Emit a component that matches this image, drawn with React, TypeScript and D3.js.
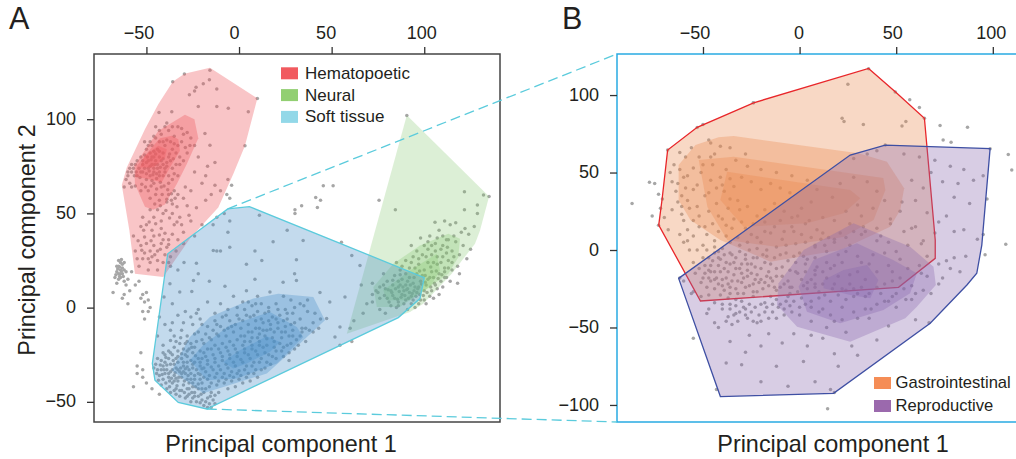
import React, { useRef, useEffect } from "react";
import * as d3 from "d3";

type Pt = number[];

// panel A hulls, outer to inner
const hemaHulls: Pt[][] = [
  [[-15.7,127.3],[-29.5,124.1],[-35.8,119.9],[-43.6,107.9],[-50.8,94.7],[-60.6,74.4],[-63.3,65.1],[-59.2,40.9],[-56.2,18],[-40.9,16.2],[-26.5,36.7],[-11.2,53.2],[-3.1,70.9],[3.2,85.9],[9.9,111.1]],
  [[-29.2,102.3],[-24.1,100],[-22,89.9],[-28.2,76.2],[-33.6,65.6],[-40,54.7],[-46.3,51.9],[-50.8,53.6],[-56.2,65.6],[-56.5,75.3],[-49.8,85],[-43.6,93.8]],
  [[-36.3,91.2],[-32.8,89.4],[-31.9,83.2],[-37.3,74.4],[-41.7,66.5],[-49,68.3],[-56.2,69.5],[-55.2,75.3],[-47.1,85],[-42.7,89.9]],
  [[-43.6,85.9],[-39,84.1],[-40,79.7],[-46.3,74.4],[-53.5,74.4],[-50.8,80.6]],
];
const neuralHulls: Pt[][] = [
  [[90.6,102.1],[135,59],[130.1,40.9],[127.4,33.9],[114.8,18],[99.5,2.1],[92.3,-2.3],[58.2,-13.8]],
  [[113,39.2],[119.3,36.5],[118.4,26.8],[113,18],[101.3,10],[86.9,0.3],[74.4,0.3],[72.5,10.9],[83.3,23.3],[97.7,33]],
  [[106.7,28.6],[108.5,19.7],[103.1,10.9],[92.3,3.9],[79.8,3.9],[77.9,9.2],[92.3,19.7]],
];
const softHulls: Pt[][] = [
  [[-6.1,52.4],[5.6,53.6],[50.9,35.6],[100,15.9],[97.7,4.8],[86,-5.3],[-17.4,-53.8],[-32.8,-50.3],[-45.4,-38.5],[-46.8,-29.6],[-38.5,28.6]],
  [[21.2,7.4],[40.1,5.6],[46.4,-6.7],[32.9,-19],[15,-34.9],[-19.3,-45.5],[-36.3,-33.2],[-26.5,-15.6],[-15.7,-5],[7.7,4.8]],
  [[-26.5,-27.9],[-19.3,-19.9],[-4.9,-9.4],[16.7,-2.3],[31.2,-10.3],[34.7,-15.6],[20.4,-29.6],[-1.2,-37.6],[-17.4,-38.5]],
  [[-8.5,-28.8],[0.5,-22.6],[15,-15.2],[22.1,-18.2],[16.7,-23.5],[4.2,-29.6],[-3.1,-32.3]],
];

// panel B hulls
const gastroHulls: Pt[][] = [
  [[35.7,117.2],[49.5,102.1],[64.6,85],[70.2,6.5],[70.2,-5.4],[51.2,-24.1],[-51.3,-32.9],[-72.9,16.1],[-71.1,33.4],[-68.3,64.5],[-53,79.2],[-23.8,95]],
  [[-41.9,72.7],[-34.1,73.5],[30.5,62.4],[45.2,57],[54.1,39.8],[52.1,25.8],[46.9,15],[21,0],[-15.1,-7.5],[-41,6.5],[-56.5,19.4],[-62.6,32.3],[-62.6,54.8],[-53.9,67.7]],
  [[-52.2,58.1],[-34.1,60.2],[43.3,46.5],[44.4,38.7],[38.3,19.4],[22.6,8.4],[-11.5,1.9],[-37.4,6.5],[-47.7,27.7]],
  [[-37.5,50.5],[26.2,38.7],[31.4,33.4],[22.8,23.7],[3.8,17.2],[-29,15],[-41,32.3]],
];
const reproHulls: Pt[][] = [
  [[44.3,67.7],[98.6,65.4],[94.3,3.2],[91.7,-15],[86.6,-22.6],[67.6,-47.3],[17.6,-92.5],[-41,-94.6],[-62.6,-18.3],[26.2,61.3]],
  [[27.9,17.2],[57.2,2.1],[69.3,-10.8],[70.5,-22.6],[60.7,-36.6],[54.7,-44.1],[26.2,-59.2],[-1.3,-49.5],[-11.7,-35.5],[-10.9,-21.5],[2.1,0]],
  [[29.7,4.3],[48.4,-6.5],[60.7,-15],[57.2,-27.9],[43.4,-38.7],[21,-47.3],[3.8,-39.8],[-0.5,-23.7],[7.2,-6.5]],
  [[34.9,-9.7],[40.8,-19.4],[36.6,-31.2],[26.2,-29],[12.4,-24.7],[12.4,-19.4],[22.8,-12.9]],
];

// scatter, panel A
const hemaPoints: Pt[] = [
  [-15.7,126],[-19.3,118.8],[-16,121],[-12,116],[-23.2,117],[-24,115],[-26.8,113],[-36.3,103.9],[-43.2,103.5],[-22,106.7],[-12,106.7],[-5.8,105.8],[5,103.9],[9.9,111],[3.2,85.9],[-15.7,86.2],[-18.4,92.4],[-29.5,124],[-35.8,119.9],[-13,77],[-18,70],[-6,68],[-4,65],[-10,62],[-15,60],[-5,58],[-8,50],[-12,48],[-20,66],[-24,72],[-26,62],[-30,58],[-28,54],[-32,48],[-26,46],[-20,44],[-24,38],[-30,40],[-35,44],[-38,36],[-42,42],[-46,38],[-44,30],[-50,34],[-52,26],[-48,24],[-54,22],[-56,30],[-50,44],[-40,28],[-34,30],[-30,34],[-44,20],[-37,22],[-57,38],[-52,48],[-46,48],[-41,50],[-36,55],[-33,60],[-29,64],[-38,60],[-43,57],[-48,58],[-53,62],[-58,64],[-60,70],[-62,64],[-58,72],[-55,70],[-52,72],[-49,74],[-46,72],[-43,70],[-40,72],[-36,74],[-32,76],[-28,82],[-24,86],[-26,90],[-30,92],[-33,96],[-38,94],[-42,92],[-45,90],[-47,86],[-44,84],[-40,86],[-36,84],[-34,82],[-38,80],[-42,78],[-46,80],[-49,78],[-52,76],[-48,82],[-44,76],[-40,74],[-36,68],[-42,64],[-46,66],[-50,68],[-53,80],[-50,84],[-41,82],[-37,88],[-33,86],[-30,78],[-33,70],[-38,66],[-45,60],[-48,52],[-42,46],[-36,50],[-47,76],[-45,78],[-43,80],[-41,76],[-47,80],[-44,74],[-46,74],[-43,72],[-48,70],[-54,74],[-56,76],[-57,74],[-55,78],[-58,76],[-59,74],[-53,72],
  [-47,41],[-41,36],[-36,39],[-33,36],[-48,30],[-44,25],[-39,32],[-53,33],[-55,26],[-46,33],[-51,29],[-42,34],[-37,27],[-49,20],[-41,24],[-31,44],[-27,49],[-23,53],[-18,57],[-13,65],[-17,75],[-22,80],[-39,56],[-35,62],[-44,52],[-49,62],[-37,78],[-41,88],[-35,91],[-31,88],[-48,88],[-51,88],[-39,98],[-45,96],
];
const hemaDense: Pt[] = [
  [-48.5,72.5],[-46.5,70.5],[-44.5,68.5],[-42.5,66.5],[-40.5,64.5],[-38.5,62.5],[-36.5,60.5],[-34.5,58],[-50.5,64],[-47.5,64.5],[-44.5,63],[-41.5,60],[-39,57.5],[-36.5,57],[-33.5,53.5],[-45.5,55],[-42.5,54],[-39.5,51.5],[-37.5,47.5],[-33.5,45.5],[-45,44.5],[-48.5,45.5],[-51.5,41],[-47.5,35.5],[-43,38.5],[-40,39.5],[-38,33.5],[-45.5,28],[-51,37.5],[-54.5,35.5],[-53,43],[-42.5,31],[-47,27],[-52.5,30.5],[-49,26],
  [-51,81],[-49,86],[-46,83],[-45,81.5],[-43,83],[-41,79],[-39,77],[-37.5,81.5],[-35.5,79],[-34,76],[-32,80],[-35,87],[-39,89],[-43,88],[-46,91],[-43,94],[-40,96],[-36,96],[-31,95],[-28,93],[-26.5,86],[-29,85],[-50,77],[-48,75],[-51,74],[-52,78],[-49.5,80],[-47.5,78.5],[-45.5,76],[-42.5,74.5],[-44.5,71],[-41,70],[-38,70],[-35,71],[-39,75],[-55.5,72],[-53.5,69],[-50,71],[-56.5,70],[-60,72],[-61,68],[-59,66],[-56,64.5],[-52.5,65.5],[-47,67.5],
];
const leftCloudPoints: Pt[] = [
  [-65,22],[-64,24],[-63,21],[-66,19],[-65,18],[-63,18],[-62,24],[-64,16],[-67,16],[-62,14],[-66,13],[-61,12],[-68,8],[-58,19],[-60,15],[-56,12],[-54,14],[-59,9],[-62,7],[-63,5],[-60,2],[-52,7],[-50,8],[-53,5],[-49,4],[-51,3],[-52,-2],[-49,-2],[-48,0],[-51,-6],[-64,20],[-65,25],[-63,23],[-66,22],[-64,18],[-62,20],[-65,15],[-64.5,21.5],[-63.5,19.5],[-65.5,20.5],[-66.5,17.5],[-64.5,16.5],[-62.5,16.5],[-63.5,25.5],[-61,19],
  [45.5,64.7],[50.8,64.7],[41.4,58.5],[44,57],[42.3,53.2],[33.8,54],[30.2,51.9],[30.2,50],[-6.6,60],[75.6,57],[84.4,52],[-53,-24],[-55,-31],[-55,-35],[-52,-33],[-57,-42],[-52,-37],[-50,-40],[-47,-43],[-43,-46],
];
const neuralPoints: Pt[] = [
  [90.6,102],[121.7,61.5],[132,59.8],[135,59],[128.7,54.5],[121.7,52],[128.7,50],[105.8,45.3],[111,46],[114,44],[117,45],[122,42],[127,43],[124,39],[120,40],[108,41],[103,38],[98,37],[93,33],[100,33],[106,34],[112,36],[117,35],[121,33],[125,31],[109,31],[115,30],[119,28],[123,26],[113,25],[110,27],[104,28],[99,28],[94,27],[90,25],[85,24],[87,20],[92,21],[97,23],[102,24],[107,23],[111,21],[115,20],[119,18],[112,16],[108,18],[104,19],[100,20],[96,18],[92,16],[88,15],[84,17],[80,14],[76,11],[72,7],[69,2],[67,-3],[62,-7],[60,-11],[66,12],[72,13],[78,18],[82,9],[86,11],[90,12],[94,13],[98,14],[102,15],[106,12],[110,11],[104,9],[100,9],[96,8],[92,8],[88,7],[84,5],[80,5],[76,5],[72,3],[76,-1],[82,1],[86,3],[90,4],[94,4],[98,4],[101,2],[95,0],[91,-1],[85,0],[79,-3],[114,14],[118,13],[105,5],[108,7],[103,16],[99,17],[95,11],[91,10],[87,12],[83,12],[79,10],[75,8],[89,9],[93,6],[97,11],[101,12],[105,16],[109,14],[107,27],[105,24],[110,33],[113,36],[116,38],[112,29],[102,31],[96,30],[88,22],[93,24],
];
const neuralDense: Pt[] = [
  [82.5,8],[84.5,10],[86.5,8.5],[88.5,11],[90.5,9.5],[92.5,12],[94.5,9],[96.5,10],[98.5,12.5],[100.5,13.5],[80.5,9.5],[78.5,6.5],[81,3],[83,6.5],[85.5,4.5],[87.5,5.5],[89.5,6.5],[91.5,5],[93.5,7.5],[95.5,6],[97.5,7],[99.5,6.5],[101.5,8],[103.5,11],[105.5,13],[107.5,15.5],[109.5,17.5],[106.5,19.5],[103.5,21.5],[100.5,17],[97.5,19.5],[94.5,16],[91,14],[87,17.5],[83,14.5],[78,12],[74,9],[107,10],[111,16],[113,21],[109,24],[106,30],[104,33],[101,27],[97,26],[95,21],[90,18],[86,14],[102,35],[107,37],[110,38],[112.5,32],[116,27],[115,24],[118,22],[111,19],[103,6],[100,4],[97,2],[93,2],[89,2],[86,1],
];
const softPoints: Pt[] = [
  [-13.9,30.3],[-12,30],[-10,30],[-5,32],[8.6,30],[18.4,35],[34.6,35.6],[12.3,25],[4,23],[31,25.4],[30,18],[31,14.4],[23.8,13.5],[8.6,15],[-7.6,11.4],[-16,14],[-22,18],[-23,23.6],[-29.7,24],[-24.6,14.4],[-37.3,12.7],[-40.5,5.6],[-32,8.3],[-25.5,8.6],[55.3,34.7],[60.9,27.7],[65.3,22.4],[49,3],[57.2,5.6],[47.3,-5.8],[54.5,-10.3],[51.8,-15.6],[54.5,-20],[60.9,-18],[43.7,8],[16.7,8.3],[-5,46],[-6,40],[-14,44],[11,49],[26,41],[-30,34],[-33,20],[-38,24],[-36,2],[-43,-5],[-40,-9],[-37,-12],[-33,-4],[-29,-2],[-22,-1],[-17,3],[-10,2],[-3,6],[4,9],[10,6],[-13,-3],[-6,-1],[2,3],[24,6],[28,4],[33,2],[37,4],[-44,-15],[-41,-20],[-34,-18],
  [-31,-12],[-28,-15],[-25,-9],[-21,-6],[-17,-10],[-13,-7],[-9,-5],[-5,-7],[-1,-4],[3,-1],[7,1],[12,2],[16,0],[20,2],[25,-1],[29,-3],[33,-6],[37,-2],[40,-8],[43,-11],[38,-12],[34,-11],[30,-8],[26,-6],[22,-4],[18,-5],[14,-3],[10,-2],[6,-5],[2,-7],[-2,-9],[-6,-11],[-10,-10],[-14,-12],[-18,-14],[-22,-13],[-26,-19],[-23,-18],[-19,-19],[-15,-17],[-11,-15],[-7,-15],[-3,-13],[1,-11],[5,-9],[9,-7],[13,-8],[17,-9],[21,-8],[25,-10],[29,-12],[33,-15],[36,-18],[31,-17],[27,-15],[23,-13],[19,-13],[15,-12],[11,-11],[7,-13],[3,-15],[-1,-17],[-5,-18],[-9,-19],[-13,-20],[-17,-22],[-21,-23],[-25,-24],[-29,-25],[-26,-28],[-22,-27],[-18,-26],[-14,-25],[-10,-24],[-6,-23],[-2,-22],[2,-20],[6,-18],[10,-16],[14,-15],[18,-16],[22,-19],[26,-20],[30,-22],[27,-24],[23,-23],[19,-21],[15,-20],[11,-20],[7,-22],[3,-24],[-1,-26],[-5,-27],[-9,-28],[-13,-29],[-17,-30],[-21,-31],[-25,-32],[-22,-35],[-18,-34],[-14,-33],[-10,-33],[-6,-32],[-2,-31],[2,-29],[6,-27],[10,-25],[14,-24],[18,-26],[15,-29],[11,-29],[7,-31],[3,-33],[-1,-35],[-5,-36],[-9,-37],[-13,-37],[-17,-38],[-20,-40],[-16,-42],[-12,-41],[-8,-40],[-4,-39],[0,-38],[4,-37],[8,-35],[12,-33],[-24,-38],[-6,-43],[-2,-42],[-11,-45],
  [-45,-30],[-44,-33],[-42,-28],[-41,-31],[-43,-36],[-40,-35],[-38,-27],[-37,-30],[-39,-33],[-36,-33],[-41,-38],[-38,-37],[-35,-36],[-33,-29],[-34,-32],[-32,-34],[-36,-40],[-33,-39],[-30,-31],[-29,-35],[-31,-37],[-28,-38],[-30,-41],[-34,-43],[-31,-44],[-28,-43],[-27,-40],[-25,-42],[-27,-46],[-24,-45],[-22,-43],[-25,-48],[-22,-47],[-19,-45],[-23,-50],[-20,-49],[-17,-48],[-19,-52],[-16,-51],[-14,-49],[-17,-53],[-40,-25],[-36,-25],[-33,-23],[-30,-22],[-27,-22],[-34,-27],[-31,-27],[-28,-29],[-38,-23],[-35,-21],[-32,-19],[-29,-19],[-44,-27],[-46,-32],[-42,-41],[-39,-43],[-37,-45],[-34,-46],[-32,-47],[-29,-48],[-26,-50],[-37,-34],[-35,-30],[-33,-33],[-40,-29],[-42,-33],[-30,-34],[-27,-33],[-28,-26],[-24,-29],[-26,-35],[-24,-36],[-21,-38],[-15,-45],[-20,-43],
];
const softDense: Pt[] = [
  [-44.5,-35],[-42.5,-30.5],[-43.5,-38.5],[-41.5,-35.5],[-40.5,-33],[-39,-30.5],[-38,-35],[-36.5,-37.5],[-39.5,-40],[-37.5,-42],[-35,-39],[-33.5,-41.5],[-32.5,-37],[-34.5,-34.5],[-31.5,-32],[-35.5,-28],[-37,-24],[-39.5,-26.5],[-41,-24],[-33,-26],[-30,-29],[-29,-32.5],[-27.5,-36],[-29.5,-39],[-26,-38],[-25,-40],[-27,-43],[-29.5,-45],[-25.5,-45],[-23.5,-42],[-22,-40.5],[-20.5,-46],[-18,-43],[-21,-50.5],[-18,-50],[-15.5,-47],[-13,-46.5],[-15,-53],[-13,-51],[-24,-47],[-28,-47],[-32,-44],[-35,-44],[-37.5,-39],[-34,-37.5],[-31,-35],[-28,-31.5],[-25,-30],[-23,-33],[-21,-35.5],[-20,-32.5],[-23.5,-25.5],[-20,-27],[-31,-24.5],[-28,-23],[-25.5,-21],[-31.5,-16],[-35,-15],[-28,-18],[-37,-17.5],[-30,-8],[-26,-5],[-23,-3],[-36,-8],
  [-16,-36],[-12,-35],[-8,-35],[-4,-34],[0,-33.5],[4,-31],[8,-29],[12,-27],[16,-25],[20,-23],[24,-21],[28,-19],[32,-20],[34,-13],[28,-9],[24,-7],[20,-6],[16,-7],[12,-6],[8,-4],[4,-4],[0,-6],[-4,-10],[-8,-12],[-12,-14],[-16,-16],[-20,-17],[-24,-21],[-19,-24],[-15,-22],[-11,-22],[-7,-21],[-3,-20],[1,-15],[5,-13],[9,-11],[13,-12],[17,-11.5],[21,-11],[25,-13],[29,-15],[3,-18],[7,-16],[11,-14],[15,-16.5],[19,-18],[23,-16],[-1,-24],[3,-22],[7,-20],[11,-18],[-5,-25],[-9,-26],[-13,-27],[-17,-28],[-21,-29],[-7,-30],[-3,-29],[1,-27.5],[5,-25],[9,-23],[13,-21],[-11,-31],[-15,-31.5],[-19,-32],[9,-33],[5,-35],[1,-36],[-3,-37],[-7,-38],[-11,-39],[-15,-40],[-19,-37],[36,-11],[40,-13],[44,-6],[41,-3],[35,1],[30,0],[26,-3],[21,-1],[16,-2],[9,2],[5,3],[-1,0],[-7,-4],[-12,-9],[-20,-9],[-24,-14],[24,-26],[20,-27],[14,-32],[17,-30],[27,-28],[10,-37],[6,-39],[2,-40],
];

// scatter, panel B
const gastroPoints: Pt[] = [
  [35.7,117],[-23.8,95],[-53,79],[-50,81],[-68.3,64.5],[25,107],[49.5,102],[64.6,85],[62,92],[57,97],[55,83],[53,80],[22,85],[23,83],[33,81],[-24,95],[-41,67],[-46,69],[-47,71],[-56,66],[-59,60],[-62,63],[-65,55],[-67,50],[-66,44],[-64,38],[-63,31],[-71,33],[-73,16],[-70,21],[-66,26],[-61,23],[-68,13],[-62,10],[-58,13],[-52,15],[-55,9],[-48,10],[-60,5],[-57,0],[-50,3],[-44,6],[-42,12],[-38,9],[-35,14],[-30,18],[-40,20],[-47,25],[-53,28],[-58,32],[-55,39],[-49,35],[-43,30],[-37,27],[-32,32],[-27,28],[-22,22],[-18,26],[-13,30],[-8,25],[-4,21],[1,27],[6,31],[-46,45],[-40,42],[-34,41],[-30,47],[-25,44],[-20,39],[-15,43],[-10,40],[-5,37],[-58,48],[-51,50],[-45,55],[-38,52],[-33,58],[-27,54],[-20,52],[-52,60],[-44,62],[-36,66],[-28,62],[-12,50],[-4,48],[4,45],[9,39],[17,34],[21,43],[28,47],[35,44],[40,38],[44,32],[38,27],[32,22],[26,17],[21,11],[15,8],[9,13],[3,17],[-3,12],[-9,7],[-15,11],[-20,5],[-25,10],[-31,3],[-36,-2],[-41,-6],[-46,-10],[-50,-5],[-54,-15],[-47,-18],[-42,-22],[-37,-14],[-32,-20],[-27,-9],[-22,-16],[-17,-4],[-12,-12],[-7,-2],[-2,-8],[3,-14],[8,-5],[14,-1],[42,9],[47,20],[53,31],[58,14],[63,4],[66,-4],[-44,-2],[-39,-26],[-34,-8],[-29,-28],[-24,-5],[-19,-25],[-14,-20],[-9,-17],[-4,-24],[1,-19],[-51,-21],[-55,-27],[-47,-29],[-44,-14],[-40,-19],[-36,-24],[-33,-12],[-30,-15],[-26,-23],[-23,-11],[-20,-19],[-16,-14],[-12,-26],[-8,-22],[-38,-8],[-42,-1],[-47,-5],[-28,-3],
];
const gastroDense: Pt[] = [
  [-62,52],[-60,47],[-63,43],[-59,40],[-61,35],[-57,27],[-60,19],[-55,19],[-52,22],[-49,15],[-45,17],[-42,22],[-38,16],[-34,20],[-31,26],[-47,37],[-43,40],[-39,38],[-36,33],[-53,42],[-50,55],[-46,60],[-41,47],[-36,46],[-55,53],[-61,28],[-58,6],[-53,0],[-55,-8],[-52,-12],[-49,-15],[-46,-20],[-44,-25],[-48,-24],[-41,-14],[-38,-18],[-35,-20],[-33,-25],[-30,-21],[-27,-17],[-24,-22],[-22,-27],[-18,-21],[-15,-18],[-12,-17],[-10,-24],[-6,-20],[-5,-13],[-1,-15],[2,-23],[6,-19],[9,-11],[-49,-10],[-45,-7],[-42,-10],[-39,-12],[-36,-9],[-33,-5],[-30,-9],[-27,-13],[-25,-15],[-23,-19],[-20,-12],[-18,-8],[-15,-9],[-13,-5],[-10,-3],[-9,-11],[-6,-7],[-3,-4],[0,-2],[4,-6],[-46,-14],[-43,-18],[-40,-23],[-37,-22],[-34,-16],[-31,-12],[-28,-6],[-25,-9],[-22,-5],[-19,-3],[-16,-23],[-13,-24],[-36,-28],[-32,-28],[-28,-24],[-24,-27],[-41,-29],[-44,-19],[-47,-13],[-50,-18],[-42,-5],[-39,-3],[-35,-3],[-31,-1],[-26,0],[-22,1],[-17,0],[-12,2],[-7,3],[-2,4],[3,5],[8,2],[13,3],[-48,0],[-44,2],[-40,1],[-36,5],[-32,8],[-27,5],[-22,8],[-18,12],[-13,15],[-8,12],[-4,15],[1,10],[6,8],[11,7],[18,5],[24,8],[28,12],[33,15],[-28,14],[-24,17],[-18,18],[-10,19],[-1,22],[5,19],[12,21],[18,19],[24,25],[30,29],[-29,-18],[-33,-32],[-37,-31],[-21,-21],[-17,-17],[-5,-28],[-1,-27],[4,-25],[8,-24],[12,-22],[8,-16],[3,-9],
];
const reproPoints: Pt[] = [
  [98.6,65.4],[44.3,67.7],[40,64],[35,62],[28,59],[54,62],[62,60],[70,58],[78,54],[85,52],[90,45],[95,48],[97,33],[88,30],[80,34],[76,22],[72,18],[70,11],[80,12],[85,13],[92,7],[96,-3],[95,10],[86,-4],[80,-5],[76,-7],[72,-9],[78,-12],[83,-14],[74,-18],[68,-28],[72,-22],[63,-15],[58,-23],[55,-32],[50,-37],[44,-33],[37,-38],[30,-44],[24,-53],[18,-46],[12,-38],[6,-46],[0,-42],[-5,-36],[-12,-44],[-18,-40],[-22,-47],[-28,-38],[-33,-41],[-38,-46],[-42,-50],[-47,-38],[-51,-30],[-56,-28],[-60,-20],[-62,-18],[-55,-57],[-43,-90],[-38,-73],[-28,-66],[-20,-85],[-12,-75],[-6,-88],[2,-72],[8,-85],[16,-90],[18,-92],[20,-75],[-16,-54],[-9,-60],[-3,-54],[4,-62],[12,-57],[18,-67],[27,-62],[30,-68],[40,-58],[46,-49],[60,-45],[67,-47],[-30,-74],[-36,-59],[-26,-55],[-20,-62],
  [60,32],[52,25],[47,17],[40,14],[32,10],[26,3],[20,-3],[14,-8],[8,-13],[4,-21],[10,-27],[16,-33],[22,-37],[28,-25],[34,-19],[40,-14],[46,-10],[52,-6],[56,-12],[48,-20],[42,-28],[34,-30],[26,-22],[20,-17],[16,-12],[22,-8],[30,-14],[36,-9],[30,-28],[24,-32],[17,-25],[-6,-30],[-2,-14],[2,-4],[8,3],[58,45],[64,40],[68,50],[74,44],[82,43],[66,24],[60,15],[64,6],[54,12],
  [-12,-32],[-18,-34],[-24,-30],[-30,-33],[-36,-35],[-40,-38],[-34,-42],[-27,-44],[-8,-38],[-14,-40],[14,-50],[6,-55],[-5,-24],[-15,-30],[36,-44],[48,-30],[58,-32],
];
const reproDense: Pt[] = [
  [-40,-35],[-36,-38],[-33,-36],[-29,-37],[-26,-35],[-23,-37],[-20,-35],[-17,-37],[-14,-35],[-10,-35],[-7,-33],[-3,-33],[1,-31],[-37,-43],[-31,-40],[-28,-42],[-25,-40],[-21,-42],[-20,-46],[-16,-44],[-11,-37],[-8,-42],[-4,-40],[0,-37],[3,-35],[6,-33],[10,-31],[13,-29],[-44,-34],[-48,-41],[-44,-47],[-32,-46],[-24,-46],[-35,-48],[20,-29],[24,-26],[28,-30],[32,-24],[36,-28],[40,-24],[44,-22],[48,-14],[52,-18],[54,-25],[50,-28],[46,-33],[40,-35],[34,-38],[28,-40],[22,-45],[16,-42],[10,-40],[6,-37],[8,-22],[14,-18],[18,-22],[22,-25],[26,-16],[32,-8],[38,-3],[44,-2],[50,-1],[56,3],[30,-4],[24,-1],[18,-10],[12,-14],[62,-10],[66,-17],[64,-26],[60,-28],[34,12],[40,6],[46,5],[18,7],[12,11],
];
const sidePoints: Pt[] = [
  [-86.7,30],[-77.7,43.7],[-75,43],[-76.3,22],[108,61.7],[109.8,51.6],[72.7,80.4],[86.9,79.2],[74.3,71],[78.4,69.5],[106.7,3.7],[14.5,-102.4],[-73,36],[-72,27],
];

const legendA = ["Hematopoetic", "Neural", "Soft tissue"];
const legendB = ["Gastrointestinal", "Reproductive"];
const ticksXA = [-50, 0, 50, 100];
const ticksYA = [-50, 0, 50, 100];
const ticksXB = [-50, 0, 50, 100];
const ticksYB = [-100, -50, 0, 50, 100];

const FONT = "'Liberation Sans', Arial, sans-serif";
const fmt = (d: number) => String(d).replace("-", "\u2212");

const App = () => {
  const svgRef = useRef<SVGSVGElement>(null);

  useEffect(() => {
    const svg = d3.select(svgRef.current);
    svg.selectAll("*").remove();

    const xA = d3.scaleLinear().domain([-78.3, 140.9]).range([94, 500]);
    const yA = d3.scaleLinear().domain([-60.7, 134.6]).range([422, 54]);
    const xB = d3.scaleLinear().domain([-94.5, 112]).range([617, 1016]);
    const yB = d3.scaleLinear().domain([-111, 126.5]).range([422, 54]);

    // top labels in the original sit a bit left of their ticks
    const axes = (x: any, y: any, tx: number[], ty: number[], shift: number[]) => {
      const top = svg.append("g").attr("transform", `translate(0,${y.range()[1]})`)
        .call(d3.axisTop(x).tickValues(tx).tickSize(7).tickPadding(8).tickFormat(fmt as any));
      const left = svg.append("g").attr("transform", `translate(${x.range()[0]},0)`)
        .call(d3.axisLeft(y).tickValues(ty).tickSize(7).tickPadding(11).tickFormat(fmt as any));
      [top, left].forEach(g => {
        g.select(".domain").remove();
        g.selectAll("line").attr("stroke", "#333").attr("stroke-width", 1.3);
        g.selectAll("text").attr("fill", "#231f20").style("font", `18px ${FONT}`);
      });
      top.selectAll("text").attr("dx", (_: any, i: number) => shift[i]);
      left.selectAll("text").attr("dy", "0.28em");
    };

    const hulls = (x: any, y: any, list: Pt[][], fill: string, op: number, stroke: string) => {
      const line = d3.line().x(d => x(d[0])).y(d => y(d[1])).curve(d3.curveLinearClosed);
      list.forEach((poly, i) => {
        svg.append("path")
          .attr("d", line(poly as any))
          .attr("fill", fill)
          .attr("fill-opacity", op)
          .attr("stroke", i === 0 ? stroke : "none")
          .attr("stroke-width", 1.3);
      });
    };

    const dots = (x: any, y: any, list: Pt[]) => {
      svg.append("g").selectAll("circle").data(list).enter().append("circle")
        .attr("cx", d => x(d[0]))
        .attr("cy", d => y(d[1]))
        .attr("r", 1.75)
        .attr("fill", "#a6a6a6");
    };

    const legend = (lx: number, ly: number, step: number, size: number, gap: number, names: string[], cols: string[]) => {
      names.forEach((n, i) => {
        svg.append("rect").attr("x", lx).attr("y", ly + i * step).attr("width", 17).attr("height", 12).attr("fill", cols[i]);
        svg.append("text").attr("x", lx + gap).attr("y", ly + i * step + 11.4)
          .attr("fill", "#231f20").style("font", `${size}px ${FONT}`).text(n);
      });
    };

    svg.append("rect").attr("width", 1016).attr("height", 459).attr("fill", "#fff");

    // panel A
    dots(xA, yA, [...hemaPoints, ...hemaDense, ...leftCloudPoints, ...neuralPoints, ...neuralDense, ...softPoints, ...softDense]);
    hulls(xA, yA, hemaHulls, "#ee5a5f", 0.35, "none");
    hulls(xA, yA, neuralHulls, "#83c56b", 0.28, "none");
    hulls(xA, yA, softHulls, "#4a90c8", 0.33, "#5bcbdc");
    svg.append("rect").attr("x", 94).attr("y", 54).attr("width", 406).attr("height", 368)
      .attr("fill", "none").attr("stroke", "#444").attr("stroke-width", 1.5);
    axes(xA, yA, ticksXA, ticksYA, [-8, -5, -6, -3]);
    legend(281, 67.3, 21.8, 17, 24, legendA, ["#f15a5f", "#92cf72", "#92d8e8"]);

    // panel B
    dots(xB, yB, [...gastroPoints, ...gastroDense, ...reproPoints, ...reproDense, ...sidePoints]);
    hulls(xB, yB, gastroHulls, "#e98a50", 0.33, "#e8262a");
    hulls(xB, yB, reproHulls, "#8a68ae", 0.33, "#3e4fa3");
    svg.append("path").attr("d", "M1017,54H617V422H1017").attr("fill", "none").attr("stroke", "#29abe2").attr("stroke-width", 1.5);
    axes(xB, yB, ticksXB, ticksYB, [-8.5, -1, -4, -2]);
    legend(874, 377, 23, 16.6, 21.5, legendB, ["#f58d56", "#9b69ad"]);

    // zoom guide lines
    [[softHulls[0][0], 54], [softHulls[0][6], 422]].forEach(([p, end]: any) => {
      svg.append("line")
        .attr("x1", xA(p[0])).attr("y1", yA(p[1]))
        .attr("x2", 617).attr("y2", end)
        .attr("stroke", "#5bcbdc").attr("stroke-width", 1.3).attr("stroke-dasharray", "10 5");
    });

    const label = (tx: number, ty: number, size: number, s: string, rot = 0, anchor = "middle") => {
      svg.append("text")
        .attr("transform", `translate(${tx},${ty}) rotate(${rot})`)
        .attr("text-anchor", anchor)
        .attr("fill", "#231f20")
        .style("font", `${size}px ${FONT}`)
        .text(s);
    };
    label(281, 451.5, 23.4, "Principal component 1");
    label(833, 451.5, 23.4, "Principal component 1");
    label(35, 240, 23.4, "Principal component 2", -90);
    label(9, 29, 30.5, "A", 0, "start");
    label(562, 29, 30.5, "B", 0, "start");
  }, []);

  return <svg ref={svgRef} width={1016} height={459} style={{ position: "absolute", left: 0, top: 0 }} />;
};

export default App;
